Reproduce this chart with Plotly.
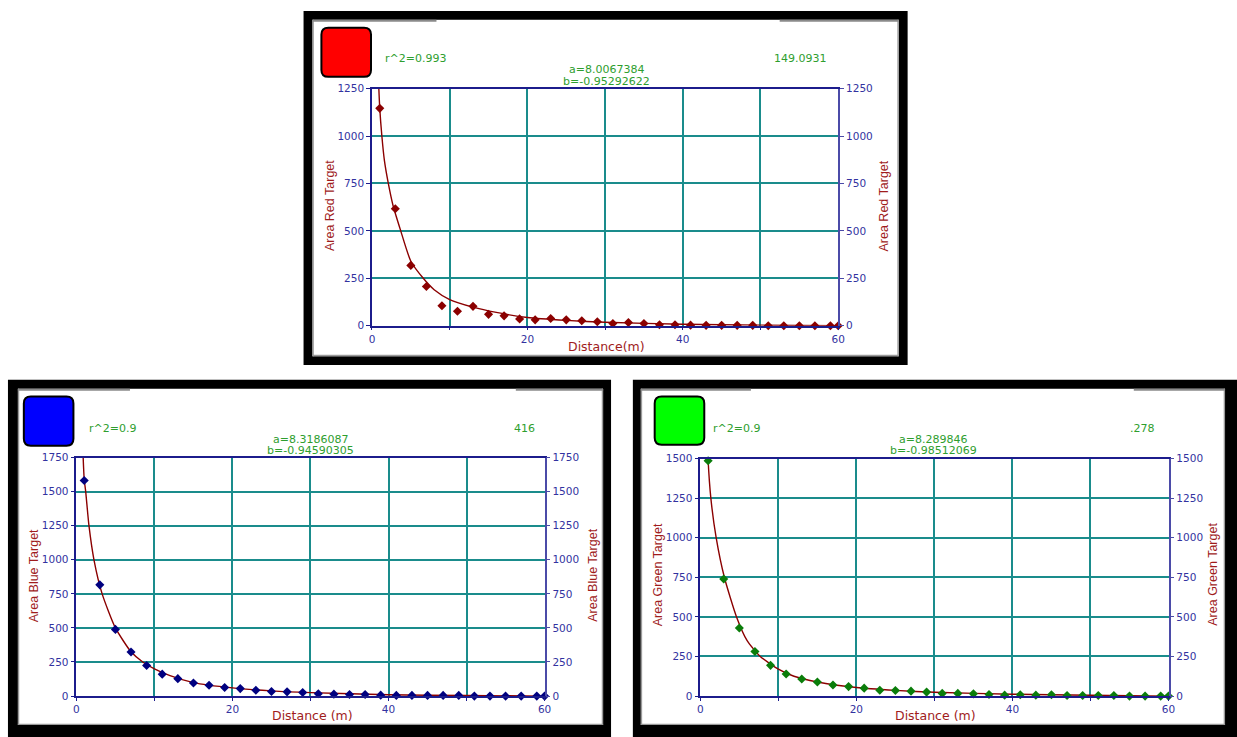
import plotly.graph_objects as go

W, H = 1237, 737

# ---------------- data ----------------
distance = [1, 3, 5, 7, 9, 11, 13, 15, 17, 19, 21, 23, 25, 27, 29, 31, 33, 35, 37, 39,
            41, 43, 45, 47, 49, 51, 53, 55, 57, 59, 60]

red_area = [1146, 617, 318, 207, 105, 76, 102, 60, 52, 36, 31, 38, 31, 26, 21, 12, 17, 12, 5, 5,
            3, 2, 2, 2, 2, 0, 0, 0, 0, 0, 0]
blue_area = [1582, 816, 489, 323, 224, 161, 128, 96, 79, 63, 55, 43, 34, 31, 26, 17, 14, 12, 12, 7,
             5, 5, 5, 5, 5, 0, 0, 0, 0, 0, 0]
green_area = [1486, 739, 430, 281, 194, 139, 108, 89, 70, 60, 50, 37, 35, 31, 25, 17, 17, 14, 10, 6,
              8, 6, 8, 4, 4, 4, 4, 0, 0, 0, 0]

# fitted curves
red_fit_x = [0.8, 1, 1.27, 1.6, 2.1, 2.7, 3.7, 5, 6.6, 8, 10, 13, 16, 20, 25, 30, 40, 50, 60]
red_fit_y = [1330, 1146, 1000, 870, 750, 635, 500, 340, 250, 190, 138, 98, 70, 43, 28, 18, 8, 3, 0]

blue_fit_x = [0.8, 1, 1.19, 1.61, 2.25, 3.3, 5, 7, 8.5, 10, 12, 15, 20, 25, 30, 40, 50, 60]
blue_fit_y = [1850, 1590, 1500, 1250, 1000, 750, 500, 325, 250, 200, 150, 99, 60, 38, 25, 10, 4, 0]

green_fit_x = [0.95, 1, 1.35, 2.03, 3.08, 4.64, 6, 7.68, 10, 12, 15, 20, 25, 30, 40, 50, 60]
green_fit_y = [1570, 1490, 1250, 1000, 750, 500, 350, 250, 170, 125, 89, 54, 36, 24, 12, 5, 0]

x_tickvals = [0, 10, 20, 30, 40, 50, 60]
x_ticktext = ["0", "", "20", "", "40", "", "60"]

panels = [
    dict(name="Red", values=red_area, fx=red_fit_x, fy=red_fit_y, ymax=1250,
         marker="#8b0000", swatch="#ff0000", xtitle="Distance(m)",
         r2="r^2=0.993", num="149.0931", a="a=8.0067384", b="b=-0.95292622"),
    dict(name="Blue", values=blue_area, fx=blue_fit_x, fy=blue_fit_y, ymax=1750,
         marker="#000080", swatch="#0000ff", xtitle="Distance (m)",
         r2="r^2=0.9", num="416", a="a=8.3186087", b="b=-0.94590305"),
    dict(name="Green", values=green_area, fx=green_fit_x, fy=green_fit_y, ymax=1500,
         marker="#0a7d0a", swatch="#00ff00", xtitle="Distance (m)",
         r2="r^2=0.9", num=".278", a="a=8.289846", b="b=-0.98512069"),
]

# ---------------- layout geometry (pixels) ----------------
geo = [
    dict(plot=(372, 842, 84, 325), outer=(303, 5, 912, 365), inner=(312, 14, 903, 356),
         topgray=[(312, 437), (783, 903)], swatch=(321, 22, 371, 72),
         r2=(383, 53), num=(833, 53), a=(608, 65), b=(608, 76.5),
         ytl=(329, 203), ytr=(888, 203), xt=(608, 346)),
    dict(plot=(74, 546, 459, 701.5), outer=(5, 380, 613, 745), inner=(15, 389, 605, 731),
         topgray=[(15, 128), (517, 605)], swatch=(21, 397, 71, 447),
         r2=(85, 429), num=(538, 429), a=(310, 440.5), b=(310, 451.5),
         ytl=(31, 579), ytr=(594, 579), xt=(312, 721)),
    dict(plot=(703, 1175, 460, 701.5), outer=(635, 380, 1245, 745), inner=(643, 389, 1232, 731),
         topgray=[(643, 754), (1140, 1232)], swatch=(657, 397, 707, 446),
         r2=(714, 429), num=(1163, 429), a=(938, 440.5), b=(938, 451.5),
         ytl=(660, 578), ytr=(1219, 578), xt=(940, 721)),
]


def px(x):
    return x / W


def py(y):
    return 1 - y / H


TEAL = "#1a8c8c"
NAVY = "#1c1c8c"
RIGHT = "#4b4ba8"
TICKC = "#3232a0"
TITLEC = "#a01c1c"
GREEN = "#2e9e2e"
FIT = "#8b0000"

fig = go.Figure()
shapes = []
annotations = []
layout_axes = {}

for i, (p, g) in enumerate(zip(panels, geo)):
    xn = "x" if i == 0 else f"x{i + 1}"
    yl = "y" if i == 0 else f"y{2 * i + 1}"
    yr = f"y{2 * i + 2}"
    xkey = "xaxis" if i == 0 else f"xaxis{i + 1}"
    ylkey = "yaxis" if i == 0 else f"yaxis{2 * i + 1}"
    yrkey = f"yaxis{2 * i + 2}"

    fig.add_trace(go.Scatter(x=p["fx"], y=p["fy"], mode="lines",
                             line=dict(color=FIT, width=1.4, shape="spline", smoothing=0.6),
                             xaxis=xn, yaxis=yl, showlegend=False, hoverinfo="skip"))
    fig.add_trace(go.Scatter(x=distance, y=p["values"], mode="markers",
                             marker=dict(symbol="diamond", size=7, color=p["marker"]),
                             xaxis=xn, yaxis=yr, cliponaxis=False, showlegend=False))

    x0, x1, y0, y1 = g["plot"]
    tickfont = dict(family="DejaVu Sans", size=10.5, color=TICKC)
    layout_axes[xkey] = dict(domain=[px(x0), px(x1)], anchor=yl, range=[0, 60],
                             tickvals=x_tickvals, ticktext=x_ticktext,
                             showgrid=True, gridcolor=TEAL, gridwidth=1.6,
                             showline=True, linecolor=NAVY, linewidth=1.5, mirror=True,
                             ticks="outside", ticklen=3, tickcolor=NAVY, tickfont=tickfont,
                             zeroline=False, fixedrange=True)
    layout_axes[ylkey] = dict(domain=[py(y1), py(y0)], anchor=xn, range=[0, p["ymax"]],
                              dtick=250, tick0=0,
                              showgrid=True, gridcolor=TEAL, gridwidth=1.6,
                              showline=True, linecolor=NAVY, linewidth=1.5,
                              ticks="outside", ticklen=4, tickcolor=NAVY, tickfont=tickfont,
                              zeroline=False, fixedrange=True)
    layout_axes[yrkey] = dict(overlaying=yl, anchor=xn, side="right", range=[0, p["ymax"]],
                              dtick=250, tick0=0, showgrid=False,
                              showline=True, linecolor=RIGHT, linewidth=1.5,
                              ticks="outside", ticklen=4, tickcolor=RIGHT, tickfont=tickfont,
                              zeroline=False, fixedrange=True)

    # frames
    ox0, oy0, ox1, oy1 = g["outer"]
    shapes.append(dict(type="rect", xref="paper", yref="paper", layer="below",
                       x0=px(ox0), x1=px(ox1), y0=py(oy1), y1=py(oy0),
                       fillcolor="black", line=dict(width=0)))
    ix0, iy0, ix1, iy1 = g["inner"]
    shapes.append(dict(type="rect", xref="paper", yref="paper", layer="below",
                       x0=px(ix0), x1=px(ix1), y0=py(iy1), y1=py(iy0),
                       fillcolor="white", line=dict(width=0)))
    gray = dict(color="#9a9a9a", width=1.3)
    for (ax0, ay0, ax1, ay1) in [(ix0 + 0.7, iy0, ix0 + 0.7, iy1), (ix1 - 0.7, iy0, ix1 - 0.7, iy1),
                                 (ix0, iy1 - 0.7, ix1, iy1 - 0.7)]:
        shapes.append(dict(type="line", xref="paper", yref="paper", layer="below",
                           x0=px(ax0), x1=px(ax1), y0=py(ay0), y1=py(ay1), line=gray))
    for (sx0, sx1) in g["topgray"]:
        shapes.append(dict(type="line", xref="paper", yref="paper", layer="below",
                           x0=px(sx0), x1=px(sx1), y0=py(iy0 + 1), y1=py(iy0 + 1),
                           line=dict(color="#8a8a8a", width=2)))

    # rounded swatch
    sx0, sy0, sx1, sy1 = g["swatch"]
    r = 7
    pts = [
        ("M", sx0 + r, sy0), ("L", sx1 - r, sy0), ("Q", sx1, sy0, sx1, sy0 + r),
        ("L", sx1, sy1 - r), ("Q", sx1, sy1, sx1 - r, sy1), ("L", sx0 + r, sy1),
        ("Q", sx0, sy1, sx0, sy1 - r), ("L", sx0, sy0 + r), ("Q", sx0, sy0, sx0 + r, sy0),
    ]
    path = ""
    for item in pts:
        cmd = item[0]
        coords = item[1:]
        s = " ".join(f"{px(coords[k]):.5f},{py(coords[k + 1]):.5f}" for k in range(0, len(coords), 2))
        path += f"{cmd} {s} "
    path += "Z"
    shapes.append(dict(type="path", xref="paper", yref="paper", path=path,
                       fillcolor=p["swatch"], line=dict(color="black", width=2)))

    # texts
    gfont = dict(family="DejaVu Sans", size=11, color=GREEN)
    annotations.append(dict(text=p["r2"], x=px(g["r2"][0]), y=py(g["r2"][1]), xanchor="left",
                            yanchor="middle", font=gfont))
    annotations.append(dict(text=p["num"], x=px(g["num"][0]), y=py(g["num"][1]), xanchor="right",
                            yanchor="middle", font=gfont))
    annotations.append(dict(text=p["a"], x=px(g["a"][0]), y=py(g["a"][1]), xanchor="center",
                            yanchor="middle", font=gfont))
    annotations.append(dict(text=p["b"], x=px(g["b"][0]), y=py(g["b"][1]), xanchor="center",
                            yanchor="middle", font=gfont))
    tfont = dict(family="Liberation Sans", size=12.5, color=TITLEC)
    ytitle = f"Area {p['name']} Target"
    for key in ("ytl", "ytr"):
        annotations.append(dict(text=ytitle, x=px(g[key][0]), y=py(g[key][1]), xanchor="center",
                                yanchor="middle", textangle=-90, font=tfont))
    annotations.append(dict(text=p["xtitle"], x=px(g["xt"][0]), y=py(g["xt"][1]), xanchor="center",
                            yanchor="middle", font=dict(family="DejaVu Sans", size=12.5, color=TITLEC)))

for a in annotations:
    a.update(xref="paper", yref="paper", showarrow=False)

fig.update_layout(width=W, height=H, margin=dict(l=0, r=0, t=0, b=0),
                  paper_bgcolor="white", plot_bgcolor="white",
                  shapes=shapes, annotations=annotations, showlegend=False,
                  **layout_axes)

fig.write_html("out.html", config={"displayModeBar": False},
               post_script="document.body.style.margin='0';document.body.style.overflow='hidden';")
